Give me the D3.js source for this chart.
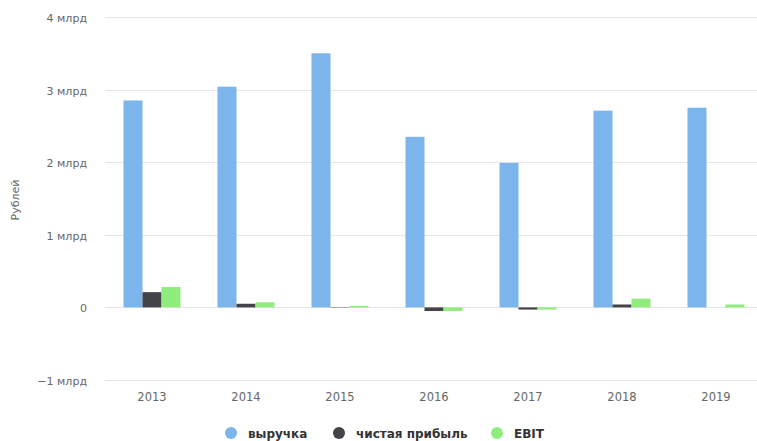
<!DOCTYPE html>
<html>
<head>
<meta charset="utf-8">
<script src="https://cdn.jsdelivr.net/npm/d3@7"></script>
<style>
  body { margin: 0; background: #fff; }
  svg { display: block; font-family: "DejaVu Sans", sans-serif; }
</style>
</head>
<body>
<div class="canvas"></div>
<script>
// values in billions of rubles
const years = ["2013", "2014", "2015", "2016", "2017", "2018", "2019"];
const revenue = [2.85, 3.04, 3.5, 2.35, 1.99, 2.71, 2.75];
const netProfit = [0.21, 0.05, 0.005, -0.05, -0.03, 0.04, 0];
const ebit = [0.28, 0.07, 0.02, -0.05, -0.03, 0.12, 0.04];
const seriesNames = ["выручка", "чистая прибыль", "EBIT"];
const seriesColors = ["#7cb5ec", "#434348", "#90ed7d"];
const yTicks = [-1, 0, 1, 2, 3, 4];

const width = 757, height = 441;
const series = [revenue, netProfit, ebit];

const svg = d3.select('.canvas')
  .append('svg')
    .attr('width', width)
    .attr('height', height);

const x = d3.scaleBand()
  .domain(years)
  .range([105, 763]);

const y = d3.scaleLinear()
  .domain([-1, 4])
  .range([380, 17]);

const barW = 19;

// gridlines
svg.append('g')
  .selectAll('line')
  .data(yTicks)
  .enter().append('line')
    .attr('x1', 105)
    .attr('x2', width)
    .attr('y1', d => Math.round(y(d)) + 0.5)
    .attr('y2', d => Math.round(y(d)) + 0.5)
    .attr('stroke', '#e6e6e6');

// y tick labels
const fmt = d => d === 0 ? '0' : (d < 0 ? '\u2212' + Math.abs(d) : d) + ' млрд';
svg.append('g')
  .selectAll('text')
  .data(yTicks)
  .enter().append('text')
    .attr('x', 87)
    .attr('y', d => y(d) + 5)
    .attr('text-anchor', 'end')
    .attr('font-size', 11)
    .attr('fill', '#666')
    .text(fmt);

// y axis title
svg.append('text')
  .attr('transform', 'translate(19,200) rotate(-90)')
  .attr('text-anchor', 'middle')
  .attr('font-size', 11)
  .attr('fill', '#666')
  .text('Рублей');

// bars
series.forEach((vals, s) => {
  svg.append('g')
    .selectAll('rect')
    .data(vals)
    .enter().append('rect')
      .attr('x', (d, i) => x(years[i]) + x.bandwidth() / 2 - 1.5 * barW + s * barW)
      .attr('y', d => y(Math.max(0, d)))
      .attr('width', barW)
      .attr('height', d => Math.abs(y(d) - y(0)))
      .attr('fill', seriesColors[s]);
});

// x labels
svg.append('g')
  .selectAll('text')
  .data(years)
  .enter().append('text')
    .attr('x', d => x(d) + x.bandwidth() / 2)
    .attr('y', 401)
    .attr('text-anchor', 'middle')
    .attr('font-size', 11.5)
    .attr('fill', '#666')
    .text(d => d);

// legend
const legendX = [231, 339, 497];
const legend = svg.append('g')
  .selectAll('g')
  .data(seriesNames)
  .enter().append('g')
    .attr('transform', (d, i) => `translate(${legendX[i]},433)`);

legend.append('circle')
  .attr('r', 6)
  .attr('fill', (d, i) => seriesColors[i]);

legend.append('text')
  .attr('x', 17)
  .attr('y', 4.5)
  .attr('font-size', 12)
  .attr('font-weight', 'bold')
  .attr('fill', '#333')
  .text(d => d);
</script>
</body>
</html>
